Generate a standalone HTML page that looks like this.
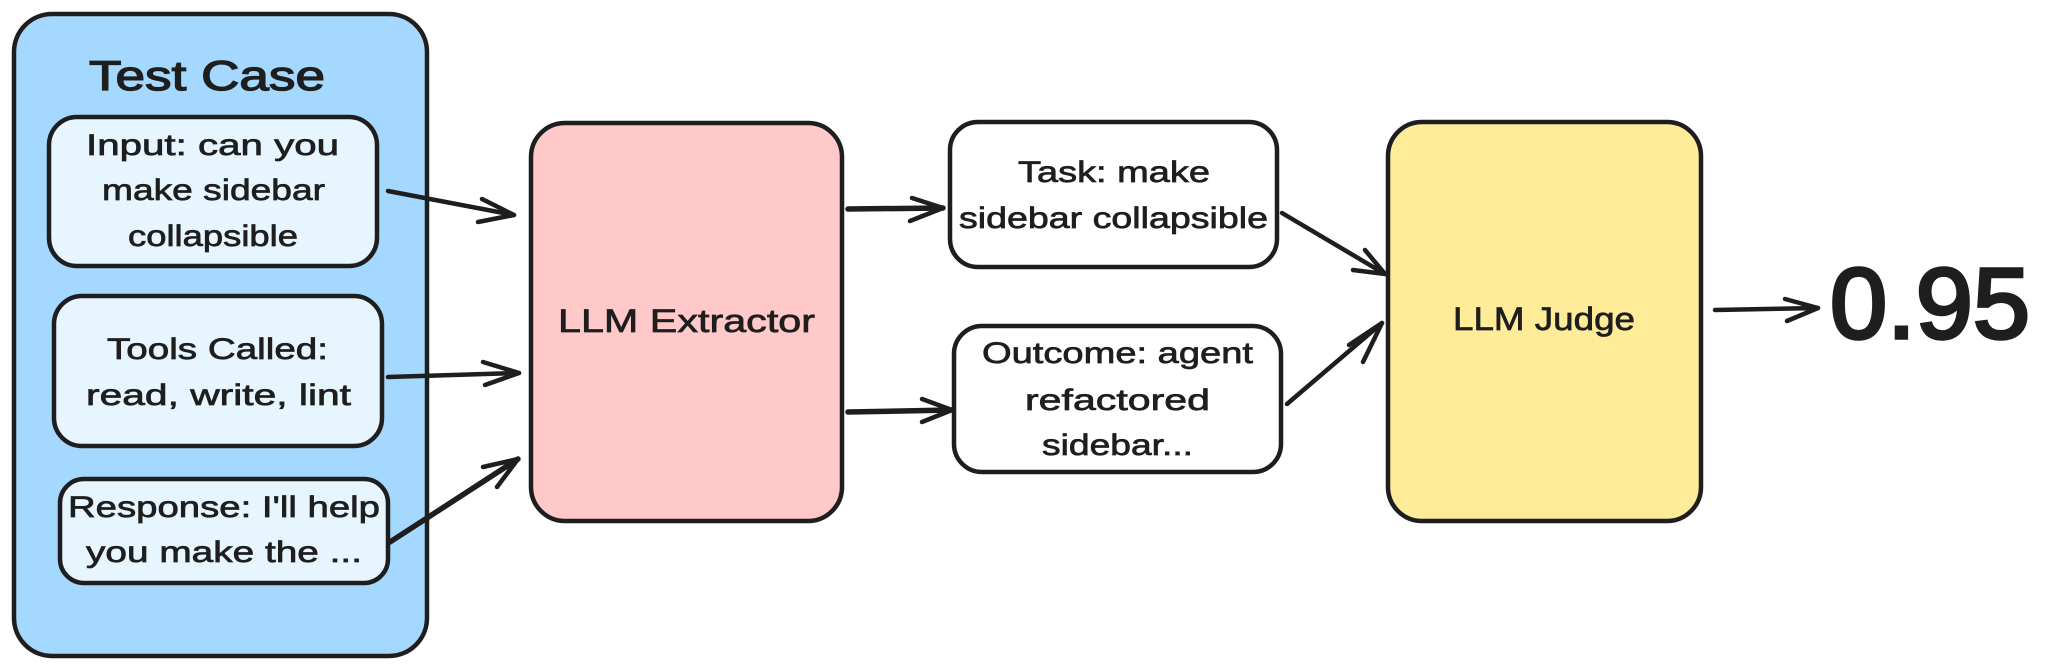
<!DOCTYPE html>
<html>
<head>
<meta charset="utf-8">
<style>
  html, body { margin: 0; padding: 0; background: #ffffff; }
  body { width: 2048px; height: 668px; overflow: hidden; }
  svg { display: block; }
  text { font-family: "Liberation Sans", "DejaVu Sans", sans-serif; fill: #1e1e1e; stroke: #1e1e1e; stroke-width: 0.7; }
</style>
</head>
<body>
<svg width="2048" height="668" viewBox="0 0 2048 668" xmlns="http://www.w3.org/2000/svg">
  <rect x="0" y="0" width="2048" height="668" fill="#ffffff"/>

  <!-- Test Case container -->
  <rect x="14" y="14" width="413" height="642" rx="38" ry="38" fill="#a5d8ff" stroke="#1e1e1e" stroke-width="4.5"/>
  <text x="89" y="90" font-size="42" textLength="236" lengthAdjust="spacingAndGlyphs" style="stroke-width:1.3">Test Case</text>

  <!-- Input box -->
  <rect x="49" y="117" width="328" height="149" rx="28" ry="28" fill="#e7f5ff" stroke="#1e1e1e" stroke-width="4.5"/>
  <text x="86" y="155" font-size="30" textLength="253" lengthAdjust="spacingAndGlyphs">Input: can you</text>
  <text x="102" y="200" font-size="30" textLength="223" lengthAdjust="spacingAndGlyphs">make sidebar</text>
  <text x="128" y="246" font-size="30" textLength="170" lengthAdjust="spacingAndGlyphs">collapsible</text>

  <!-- Tools box -->
  <rect x="54" y="296" width="328" height="150" rx="28" ry="28" fill="#e7f5ff" stroke="#1e1e1e" stroke-width="4.5"/>
  <text x="107" y="359" font-size="30" textLength="221" lengthAdjust="spacingAndGlyphs">Tools Called:</text>
  <text x="86" y="405" font-size="30" textLength="265" lengthAdjust="spacingAndGlyphs">read, write, lint</text>

  <!-- Response box -->
  <rect x="60" y="479" width="328" height="104" rx="24" ry="24" fill="#e7f5ff" stroke="#1e1e1e" stroke-width="4.5"/>
  <text x="68" y="517" font-size="30" textLength="312" lengthAdjust="spacingAndGlyphs">Response: I'll help</text>
  <text x="86" y="562" font-size="30" textLength="276" lengthAdjust="spacingAndGlyphs">you make the ...</text>

  <!-- LLM Extractor -->
  <rect x="531" y="123" width="311" height="398" rx="34" ry="34" fill="#ffc9c9" stroke="#1e1e1e" stroke-width="4.5"/>
  <text x="558" y="332" font-size="32" textLength="257" lengthAdjust="spacingAndGlyphs">LLM Extractor</text>

  <!-- Task box -->
  <rect x="950" y="122" width="327" height="145" rx="28" ry="28" fill="#ffffff" stroke="#1e1e1e" stroke-width="4.5"/>
  <text x="1018" y="182" font-size="30" textLength="192" lengthAdjust="spacingAndGlyphs">Task: make</text>
  <text x="959" y="228" font-size="30" textLength="309" lengthAdjust="spacingAndGlyphs">sidebar collapsible</text>

  <!-- Outcome box -->
  <rect x="954" y="326" width="327" height="146" rx="28" ry="28" fill="#ffffff" stroke="#1e1e1e" stroke-width="4.5"/>
  <text x="982" y="363" font-size="30" textLength="271" lengthAdjust="spacingAndGlyphs">Outcome: agent</text>
  <text x="1025" y="410" font-size="30" textLength="185" lengthAdjust="spacingAndGlyphs">refactored</text>
  <text x="1042" y="455" font-size="30" textLength="151" lengthAdjust="spacingAndGlyphs">sidebar...</text>

  <!-- LLM Judge -->
  <rect x="1388" y="122" width="313" height="399" rx="34" ry="34" fill="#ffec99" stroke="#1e1e1e" stroke-width="4.5"/>
  <text x="1453" y="330" font-size="32" textLength="182" lengthAdjust="spacingAndGlyphs">LLM Judge</text>

  <!-- Score -->
  <text x="1830" y="338" font-size="100" textLength="200" lengthAdjust="spacingAndGlyphs" style="stroke-width:3.5">0.95</text>

  <!-- Arrows -->
  <g fill="none" stroke="#1e1e1e" stroke-width="4.5" stroke-linecap="round" stroke-linejoin="round">
    <path d="M388,191 L514,215"/>
    <path d="M482,199 L514,215 L478,222"/>

    <path d="M388,377 L519,373"/>
    <path d="M483,362 L519,373 L485,385"/>

    <path d="M390,542 L518,459" stroke-width="5.5"/>
    <path d="M483,467 L518,459 L497,487"/>

    <path d="M848,209 L943,208" stroke-width="5.5"/>
    <path d="M912,198 L943,208 L910,221"/>

    <path d="M848,412 L952,410" stroke-width="5.5"/>
    <path d="M922,399 L952,410 L922,422"/>

    <path d="M1282,213 L1385,274"/>
    <path d="M1365,250 L1385,274 L1353,270"/>

    <path d="M1287,404 L1382,323"/>
    <path d="M1349,345 L1382,323 L1363,362"/>

    <path d="M1715,310 L1818,308"/>
    <path d="M1785,299 L1818,308 L1787,321"/>
  </g>
</svg>
</body>
</html>
